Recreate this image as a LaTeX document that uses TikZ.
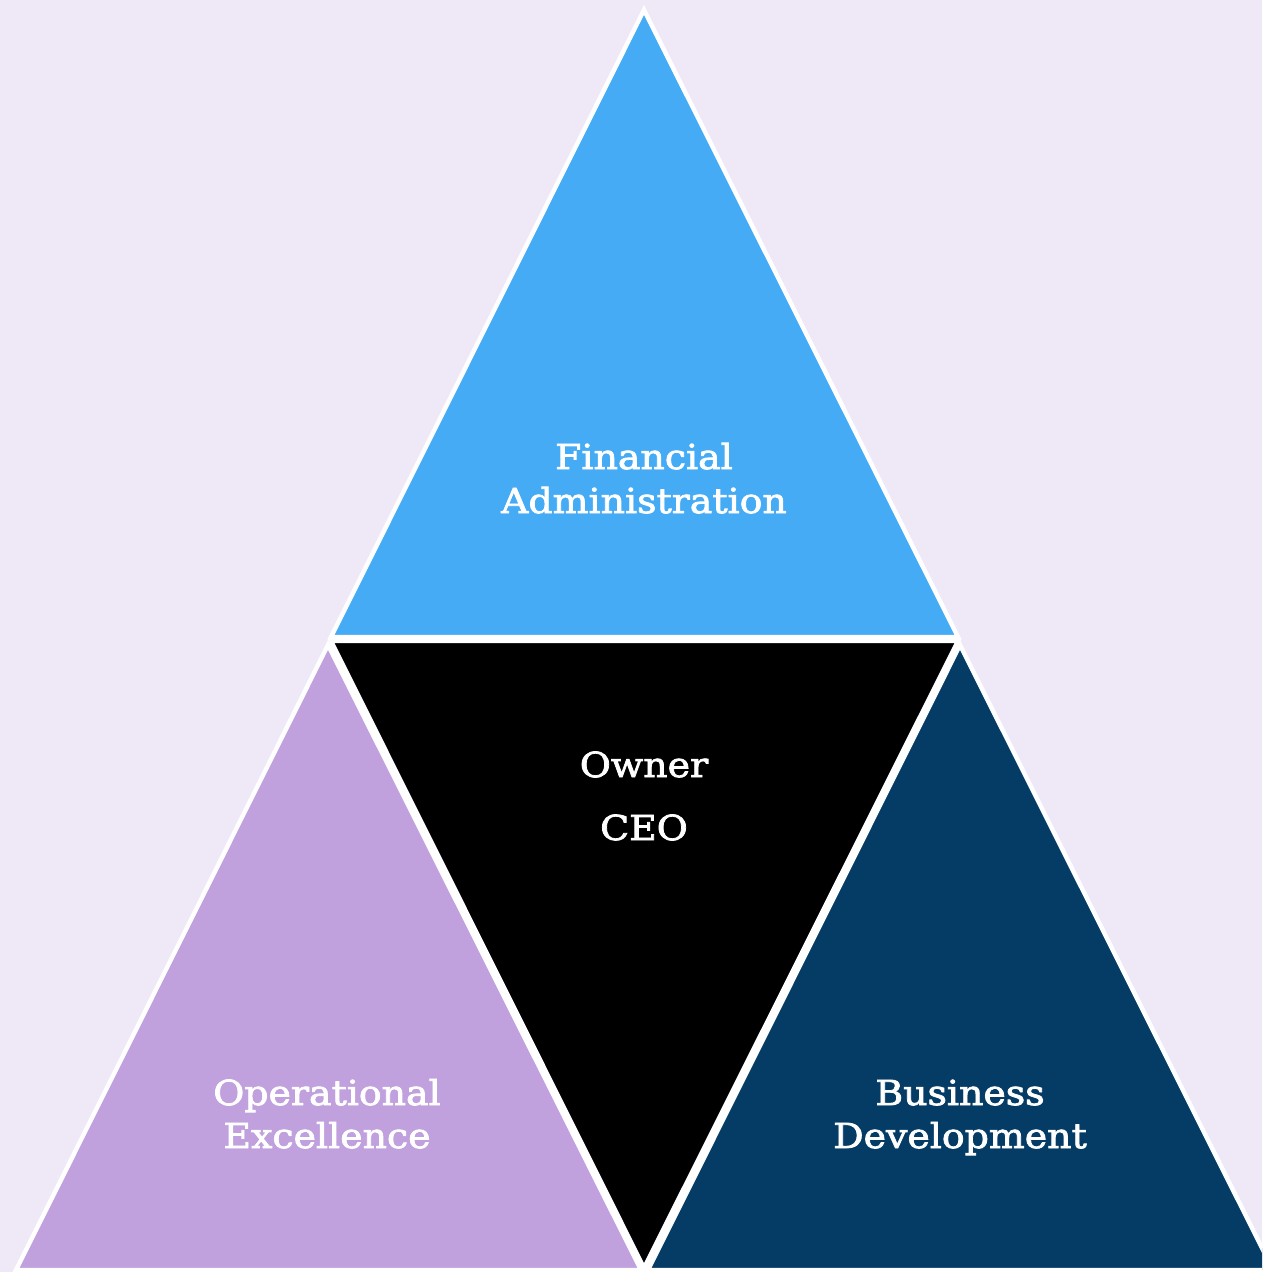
\documentclass[tikz,border=0pt]{standalone}
\usepackage{fontspec}
\setmainfont[FakeStretch=1.1, FakeBold=2.2]{DejaVu Serif}
\definecolor{bgdot}{RGB}{239,233,247}
\definecolor{finblue}{RGB}{69,171,245}
\definecolor{oplav}{RGB}{192,160,221}
\definecolor{bdnavy}{RGB}{5,60,102}
\tikzset{
  tri/.style={draw=white, line width=2.2pt, line join=miter},
  lbl/.style={text=white, font=\fontsize{17.2}{22}\selectfont, inner sep=0pt, anchor=base}
}
\begin{document}
\begin{tikzpicture}[x=0.5pt,y=-0.5pt]
\useasboundingbox (0,0) rectangle (1262,1272);
\fill[bgdot] (0,0) rectangle (1262,1272);
\clip (0,0) rectangle (1262,1272);
\filldraw[tri, fill=finblue] (644,10) -- (958,637) -- (331,637) -- cycle;
\filldraw[tri, fill=black] (331,641) -- (958,641) -- (644,1268) -- cycle;
\filldraw[tri, fill=oplav] (328,645) -- (641,1270) -- (16,1270) -- cycle;
\filldraw[tri, fill=bdnavy] (960,645) -- (1273,1270) -- (648,1270) -- cycle;
\node[lbl] (fin1) at (644,469) {Financial};
\node[lbl] (fin2) at (644,513) {Administration};
\node[lbl] (own) at (644,777) {Owner};
\node[lbl] (ceo) at (644,840) {CEO};
\node[lbl] (ops1) at (327,1105) {Operational};
\node[lbl] (ops2) at (327,1148) {Excellence};
\node[lbl] (bus1) at (960,1105) {Business};
\node[lbl] (bus2) at (960,1148) {Development};
\end{tikzpicture}
\end{document}
